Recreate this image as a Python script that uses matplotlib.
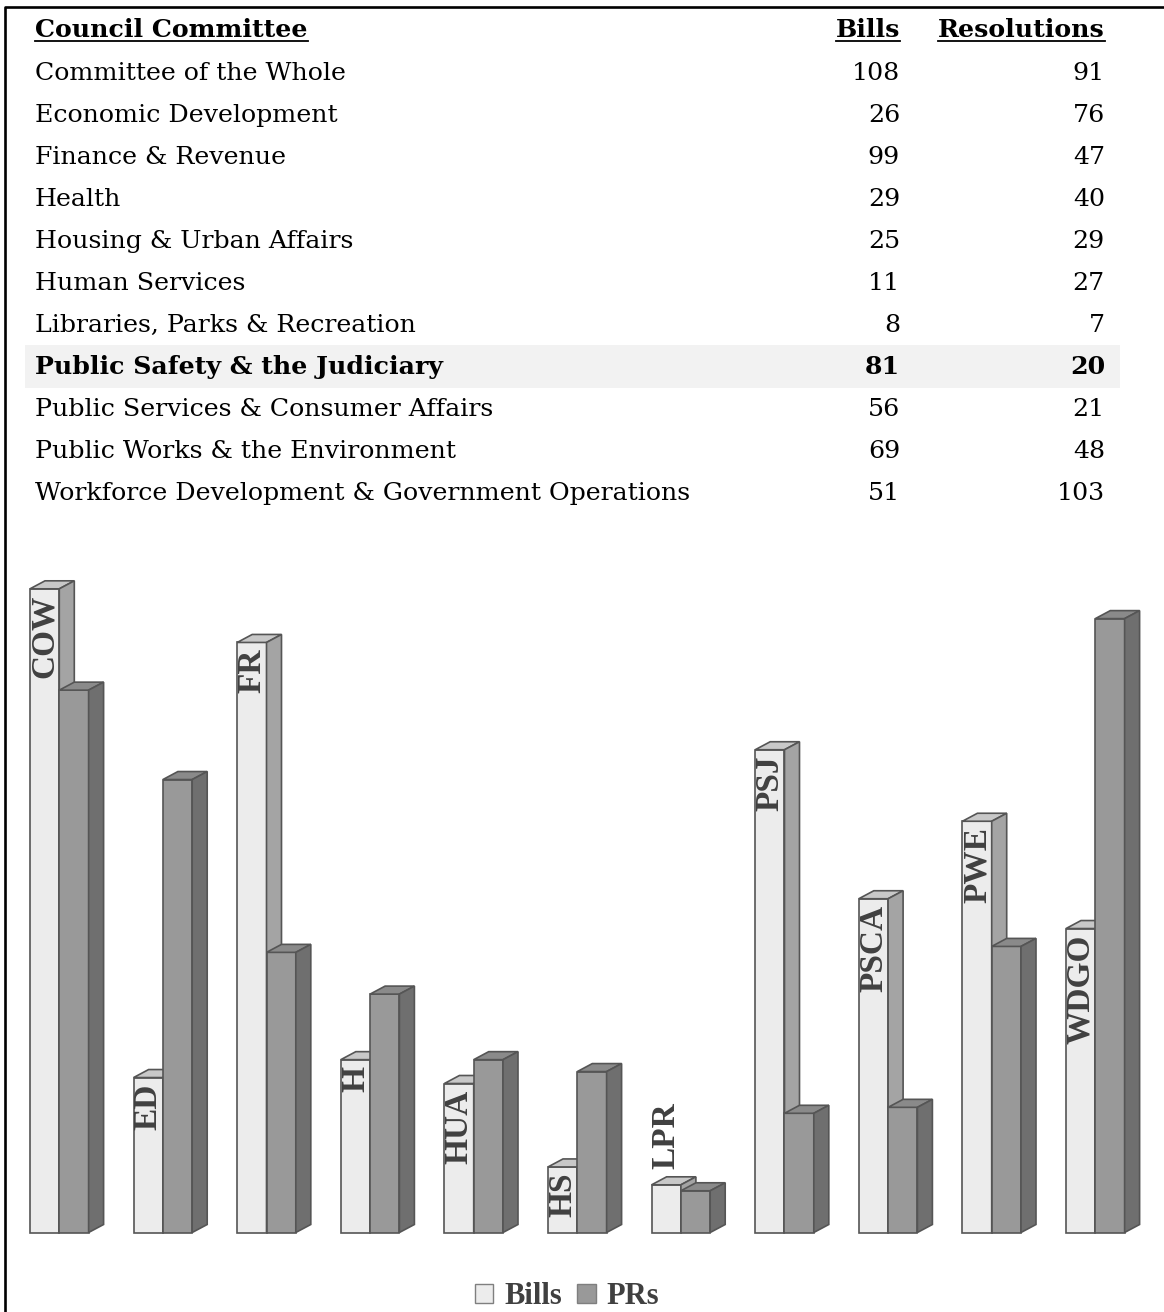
import matplotlib.pyplot as plt
from matplotlib.patches import Polygon, Patch, Rectangle

# -----------------------
# Data
# -----------------------
committees = [
    "Committee of the Whole",
    "Economic Development",
    "Finance & Revenue",
    "Health",
    "Housing & Urban Affairs",
    "Human Services",
    "Libraries, Parks & Recreation",
    "Public Safety & the Judiciary",
    "Public Services & Consumer Affairs",
    "Public Works & the Environment",
    "Workforce Development & Government Operations",
]
abbrevs = ["COW", "ED", "FR", "H", "HUA", "HS", "LPR", "PSJ", "PSCA", "PWE", "WDGO"]
bills = [108, 26, 99, 29, 25, 11, 8, 81, 56, 69, 51]
resolutions = [91, 76, 47, 40, 29, 27, 7, 20, 21, 48, 103]
highlight = "Public Safety & the Judiciary"

# -----------------------
# Style
# -----------------------
W, H = 1164, 1312
TABLE_FONT = "DejaVu Serif"
CHART_FONT = "Liberation Serif"
TXT = "#404040"
EDGE = "#555555"
BILL_FRONT, BILL_TOP, BILL_SIDE = "#ececec", "#c8c8c8", "#a4a4a4"
PR_FRONT, PR_TOP, PR_SIDE = "#999999", "#8a8a8a", "#6f6f6f"

fig = plt.figure(figsize=(W / 100, H / 100), dpi=100)

# background axes in pixel units for the table
bg = fig.add_axes([0, 0, 1, 1])
bg.set_xlim(0, W)
bg.set_ylim(H, 0)
bg.axis("off")

# frame (left and top only)
bg.plot([5, 5, W], [H, 7, 7], color="black", lw=1.9, solid_capstyle="butt")

fs = 18.2
header_y = 37
row0, step = 80, 42
x_name, x_bills, x_res = 35, 900, 1105

hdrs = [
    bg.text(x_name, header_y, "Council Committee", ha="left", va="baseline",
            fontsize=fs, fontweight="bold", family=TABLE_FONT),
    bg.text(x_bills, header_y, "Bills", ha="right", va="baseline",
            fontsize=fs, fontweight="bold", family=TABLE_FONT),
    bg.text(x_res, header_y, "Resolutions", ha="right", va="baseline",
            fontsize=fs, fontweight="bold", family=TABLE_FONT),
]

for k, (name, b, r) in enumerate(zip(committees, bills, resolutions)):
    y = row0 + k * step
    wt = "bold" if name == highlight else "normal"
    if name == highlight:
        bg.add_patch(Rectangle((25, y - 29), 1095, 43, color="#f2f2f2", lw=0, zorder=0))
    bg.text(x_name, y, name, ha="left", va="baseline", fontsize=fs,
            fontweight=wt, family=TABLE_FONT)
    bg.text(x_bills, y, str(b), ha="right", va="baseline", fontsize=fs,
            fontweight=wt, family=TABLE_FONT)
    bg.text(x_res, y, str(r), ha="right", va="baseline", fontsize=fs,
            fontweight=wt, family=TABLE_FONT)

# underline the headers
fig.canvas.draw()
rend = fig.canvas.get_renderer()
inv = bg.transData.inverted()
for t in hdrs:
    bb = t.get_window_extent(rend)
    (x0, _), (x1, _) = inv.transform([(bb.x0, 0), (bb.x1, 0)])
    bg.plot([x0, x1], [header_y + 4, header_y + 4], color="black", lw=1.3)

# -----------------------
# 3D-looking bar chart
# -----------------------
px_per_unit = 5.96
grp_px = 103.6
base_px = 1232.5
ax_top, ax_bot = 530, 1260
ax = fig.add_axes([0, (H - ax_bot) / H, 1, (ax_bot - ax_top) / H])
ax.patch.set_alpha(0)
ax.axis("off")
ax.set_xlim(-59.3 / grp_px, (W - 59.3) / grp_px)
ax.set_ylim((base_px - ax_bot) / px_per_unit, (base_px - ax_top) / px_per_unit)

bw = 29.3 / grp_px
dx = 15 / grp_px
dy = 8 / px_per_unit


def box(ax, x0, h, front, top, side):
    x1 = x0 + bw
    faces = [
        ([(x0, 0), (x1, 0), (x1, h), (x0, h)], front),
        ([(x0, h), (x1, h), (x1 + dx, h + dy), (x0 + dx, h + dy)], top),
        ([(x1, 0), (x1 + dx, dy), (x1 + dx, h + dy), (x1, h)], side),
    ]
    for pts, c in faces:
        ax.add_patch(Polygon(pts, closed=True, facecolor=c, edgecolor=EDGE,
                             lw=1.2, joinstyle="miter"))


for i, (b, r) in enumerate(zip(bills, resolutions)):
    box(ax, i - bw, b, BILL_FRONT, BILL_TOP, BILL_SIDE)
    box(ax, i, r, PR_FRONT, PR_TOP, PR_SIDE)

fig.canvas.draw()
rend = fig.canvas.get_renderer()
for i, (lab, b) in enumerate(zip(abbrevs, bills)):
    t = ax.annotate(lab, (i - bw / 2, b), xytext=(0, -6), textcoords="offset pixels",
                    rotation=90, ha="center", va="top", fontsize=24,
                    fontweight="bold", family=CHART_FONT, color=TXT, zorder=5)
    hgt = t.get_window_extent(rend).height
    if hgt + 8 > b * px_per_unit:
        t.set_va("bottom")
        t.xyann = (0, 16)

handles = [Patch(facecolor=BILL_FRONT, edgecolor="#7f7f7f", label="Bills"),
           Patch(facecolor=PR_FRONT, edgecolor="#7f7f7f", label="PRs")]
leg = fig.legend(handles=handles, loc="center", bbox_to_anchor=(567 / W, 1 - 1297 / H),
                 ncol=2, frameon=False, handlelength=0.6, handleheight=0.6,
                 handletextpad=0.35, columnspacing=0.5,
                 prop={"family": CHART_FONT, "weight": "bold", "size": 22})
for txt in leg.get_texts():
    txt.set_color(TXT)

fig.savefig("out.png", dpi=100)
